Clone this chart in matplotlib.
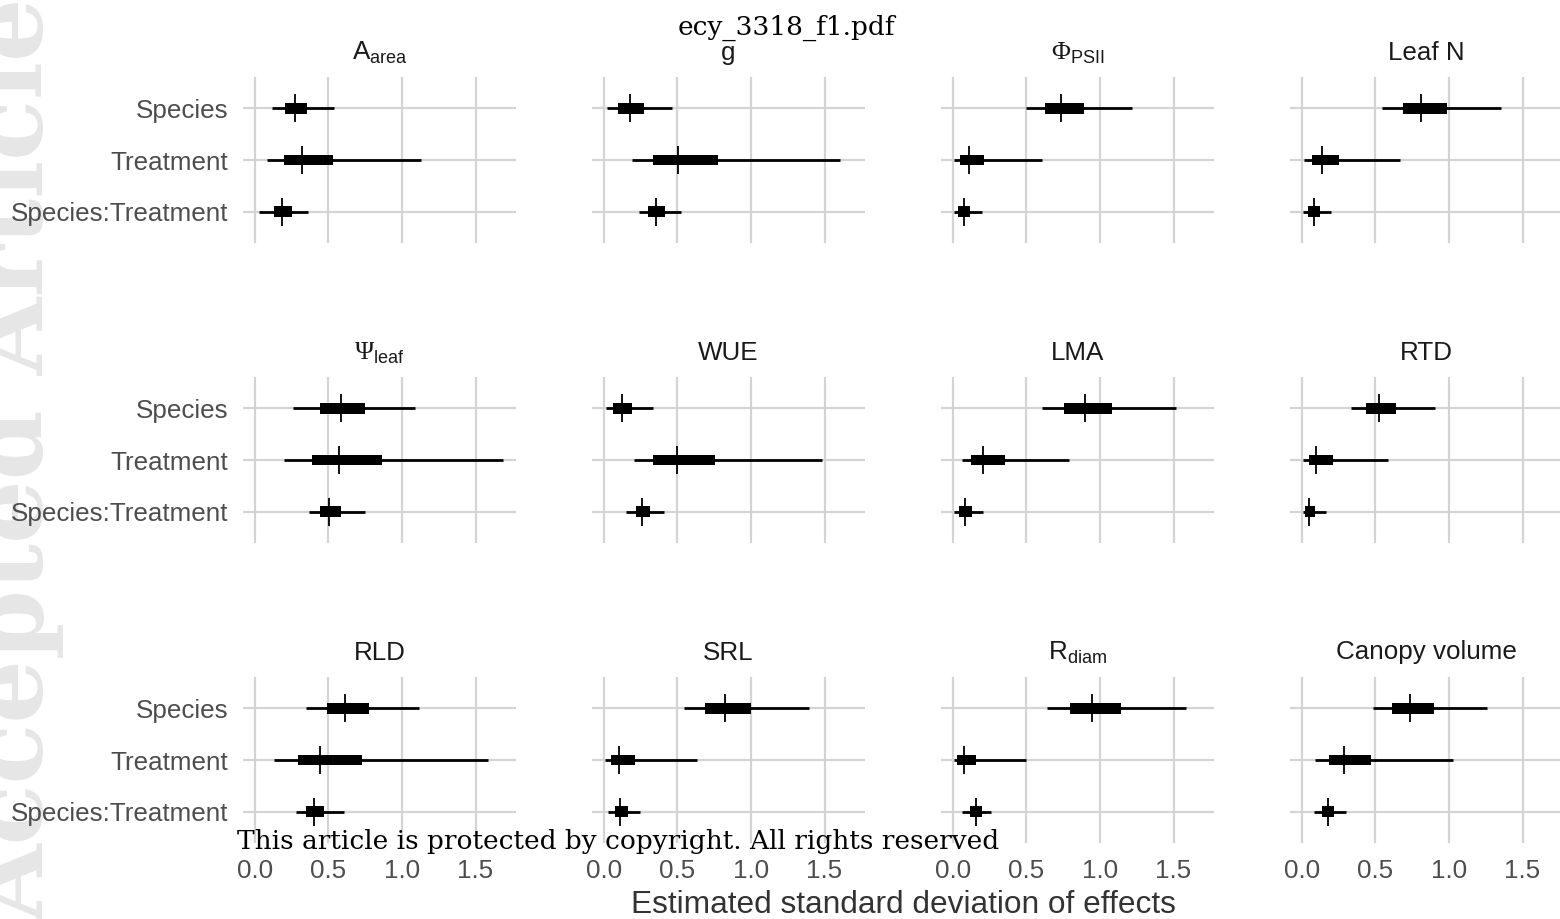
import numpy as np
import matplotlib
matplotlib.use("Agg")
import matplotlib.pyplot as plt

plt.rcParams['font.family'] = ['Liberation Sans', 'DejaVu Sans']
plt.rcParams['mathtext.fontset'] = 'custom'
plt.rcParams['mathtext.rm'] = 'Liberation Sans'
plt.rcParams['mathtext.it'] = 'Liberation Sans:italic'
plt.rcParams['mathtext.tt'] = 'Liberation Serif'

# posterior sd of effects: 95% interval, 50% interval, median
terms = ['Species', 'Treatment', 'Species:Treatment']
traits = [r'A$_{\mathrm{area}}$', 'g', r'$\mathtt{\Phi}_{\mathrm{PSII}}$', 'Leaf N',
          r'$\mathtt{\Psi}_{\mathrm{leaf}}$', 'WUE', 'LMA', 'RTD',
          'RLD', 'SRL', r'R$_{\mathrm{diam}}$', 'Canopy volume']

# one row per trait, order Species, Treatment, Species:Treatment
lo95 = [[0.115, 0.084, 0.031], [0.023, 0.194, 0.240], [0.497, 0.012, 0.010], [0.546, 0.018, 0.010],
        [0.260, 0.202, 0.370], [0.015, 0.205, 0.152], [0.609, 0.062, 0.010], [0.333, 0.009, 0.010],
        [0.347, 0.134, 0.279], [0.548, 0.011, 0.027], [0.638, 0.010, 0.062], [0.487, 0.088, 0.083]]
lo50 = [[0.206, 0.198, 0.130], [0.095, 0.338, 0.300], [0.626, 0.053, 0.038], [0.687, 0.068, 0.044],
        [0.447, 0.389, 0.443], [0.065, 0.338, 0.217], [0.756, 0.126, 0.044], [0.434, 0.047, 0.024],
        [0.492, 0.294, 0.347], [0.689, 0.053, 0.076], [0.797, 0.032, 0.118], [0.617, 0.186, 0.139]]
med = [[0.275, 0.321, 0.187], [0.179, 0.506, 0.357], [0.735, 0.109, 0.076], [0.811, 0.136, 0.083],
       [0.588, 0.576, 0.504], [0.122, 0.498, 0.262], [0.897, 0.206, 0.085], [0.525, 0.097, 0.053],
       [0.615, 0.447, 0.405], [0.822, 0.103, 0.114], [0.944, 0.074, 0.156], [0.735, 0.289, 0.180]]
hi50 = [[0.359, 0.534, 0.256], [0.274, 0.776, 0.418], [0.891, 0.215, 0.120], [0.988, 0.257, 0.124],
        [0.748, 0.866, 0.588], [0.194, 0.757, 0.316], [1.085, 0.353, 0.132], [0.643, 0.212, 0.091],
        [0.775, 0.729, 0.473], [1.001, 0.213, 0.167], [1.141, 0.159, 0.197], [0.900, 0.469, 0.221]]
hi95 = [[0.538, 1.130, 0.363], [0.464, 1.608, 0.525], [1.221, 0.606, 0.200], [1.354, 0.667, 0.198],
        [1.088, 1.687, 0.752], [0.338, 1.483, 0.407], [1.518, 0.791, 0.209], [0.906, 0.587, 0.165],
        [1.118, 1.588, 0.607], [1.393, 0.636, 0.247], [1.585, 0.500, 0.259], [1.257, 1.027, 0.304]]

xticks = [0.0, 0.5, 1.0, 1.5]

W, H = 1560, 919
fig = plt.figure(figsize=(W / 100, H / 100), dpi=100)

# faint watermark along the left edge, behind everything
fig.text(44 / W, 0.5, 'Accepted Article', rotation=90, rotation_mode='anchor',
         ha='center', va='baseline', family='DejaVu Serif', weight='bold', size=72,
         color='#e6e6e6', zorder=-5)

col_x = [243, 592, 941, 1290]
row_y = [77, 377, 677]
pw, ph = 273, 166
ypos = [3, 2, 1]

for i, name in enumerate(traits):
    r, c = divmod(i, 4)
    ax = fig.add_axes([col_x[c] / W, 1 - (row_y[r] + ph) / H, pw / W, ph / H])
    ax.patch.set_alpha(0)
    ax.set_xlim(-0.079, 1.775)
    ax.set_ylim(0.4, 3.6)
    ax.set_xticks(xticks)
    ax.set_yticks(ypos)
    ax.set_yticklabels(terms)
    ax.grid(True, color='#d4d4d4', lw=1.6)
    ax.set_axisbelow(True)
    for s in ax.spines.values():
        s.set_visible(False)
    ax.tick_params(length=0, labelsize=18.7, labelcolor='#4d4d4d')
    ax.tick_params(axis='y', pad=10.8)
    ax.tick_params(axis='x', pad=11.5)
    ax.set_xticklabels(['0.0', '0.5', '1.0', '1.5'])
    if r < 2:
        ax.tick_params(labelbottom=False)
    if c > 0:
        ax.tick_params(labelleft=False)

    ax.hlines(ypos, lo95[i], hi95[i], color='black', lw=2.0, zorder=3)
    ax.barh(ypos, np.array(hi50[i]) - np.array(lo50[i]), left=lo50[i], height=0.21,
            color='black', zorder=4)
    ax.vlines(med[i], np.array(ypos) - 0.27, np.array(ypos) + 0.27, color='black', lw=1.3, zorder=5)

    ax.text(0.5, 1 + 17.5 / ph, name, transform=ax.transAxes, ha='center', va='baseline',
            size=18.7, color='#1a1a1a')

fig.text(903 / W, 1 - 905 / H, 'Estimated standard deviation of effects', ha='center', va='center',
         size=22.8, color='#333333')

fig.text(786 / W, 1 - 35 / H, 'ecy_3318_f1.pdf', ha='center', va='baseline',
         family='DejaVu Serif', size=19, color='black')
fig.text(237 / W, 1 - 849 / H, 'This article is protected by copyright. All rights reserved',
         ha='left', va='baseline', family='DejaVu Serif', size=19, color='black')

fig.savefig('out.png', dpi=100)
